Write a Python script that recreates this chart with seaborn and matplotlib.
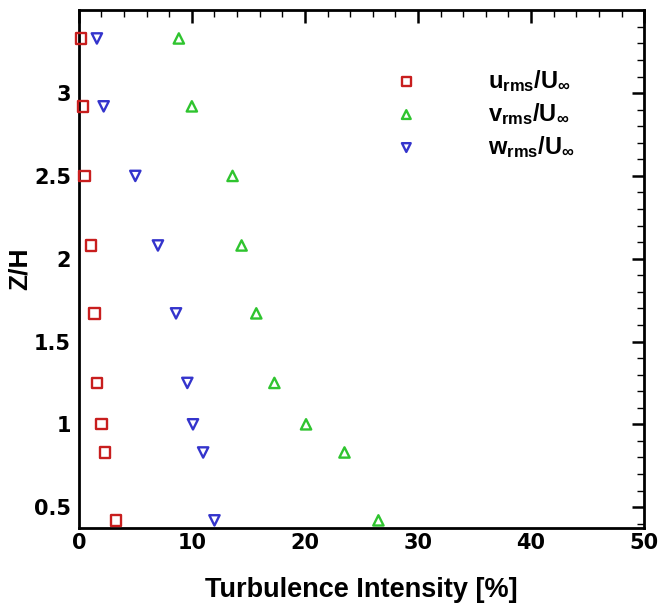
import matplotlib
matplotlib.use("Agg")
import matplotlib.pyplot as plt
import seaborn as sns
import pandas as pd
from matplotlib.ticker import MultipleLocator, FixedLocator, FuncFormatter

z_over_h = [3.33, 2.92, 2.5, 2.08, 1.67, 1.25, 1.0, 0.83, 0.42]
u_rms = [0.2, 0.35, 0.5, 1.05, 1.4, 1.6, 2.0, 2.3, 3.3]
v_rms = [8.85, 10.0, 13.6, 14.4, 15.7, 17.3, 20.1, 23.5, 26.5]
w_rms = [1.6, 2.2, 5.0, 7.0, 8.6, 9.6, 10.1, 11.0, 12.0]
labels = [r"u$_{\mathbf{rms}}$/U$_{\infty}$", r"v$_{\mathbf{rms}}$/U$_{\infty}$", r"w$_{\mathbf{rms}}$/U$_{\infty}$"]
y_ticks = [0.5, 1.0, 1.5, 2.0, 2.5, 3.0]
x_ticks = [0, 10, 20, 30, 40, 50]

rows = []
for lab, vals in zip(labels, [u_rms, v_rms, w_rms]):
    for x, z in zip(vals, z_over_h):
        rows.append({"ti": x, "z": z, "comp": lab})
df = pd.DataFrame(rows)

sns.set_theme(style="white")
plt.rcParams['font.family'] = ['Liberation Sans', 'DejaVu Sans']
plt.rcParams['mathtext.fontset'] = 'custom'
plt.rcParams['mathtext.rm'] = 'Liberation Sans:bold'
plt.rcParams['mathtext.bf'] = 'Liberation Sans:bold'
plt.rcParams['mathtext.it'] = 'Liberation Sans:bold'
plt.rcParams['text.color'] = 'black'
plt.rcParams['axes.labelcolor'] = 'black'

fig = plt.figure(figsize=(6.62, 6.06), dpi=100)
ax = fig.add_axes([0.119, 0.129, 0.854, 0.854])

palette = {labels[0]: "#c81e1e", labels[1]: "#2fc42f", labels[2]: "#3434cc"}
markers = {labels[0]: "s", labels[1]: "^", labels[2]: "v"}

for lab in labels:
    sub = df[df.comp == lab]
    sns.scatterplot(data=sub, x="ti", y="z", ax=ax, marker=markers[lab],
                    facecolor="none", edgecolor=palette[lab], linewidth=1.7,
                    s=55, label=lab, clip_on=False, zorder=3)

ax.set_xlim(0, 50)
ax.set_ylim(0.375, 3.5)
ax.xaxis.set_major_locator(FixedLocator(x_ticks))
ax.xaxis.set_minor_locator(MultipleLocator(2))
ax.yaxis.set_major_locator(FixedLocator(y_ticks))
ax.yaxis.set_minor_locator(MultipleLocator(0.1))
ax.yaxis.set_major_formatter(FuncFormatter(lambda v, p: f"{v:g}"))
ax.xaxis.set_major_formatter(FuncFormatter(lambda v, p: f"{v:g}"))
ax.tick_params(which="both", direction="in", top=True, right=True, colors="black")
ax.tick_params(which="major", length=9, width=1.8)
ax.tick_params(which="minor", length=5, width=1.0)
ax.tick_params(axis="y", which="major", pad=5.5)
ax.tick_params(axis="x", which="major", pad=4)
for t in ax.get_xticklabels() + ax.get_yticklabels():
    t.set_fontfamily("DejaVu Sans")
    t.set_fontweight("bold")
    t.set_fontsize(15)
for s in ax.spines.values():
    s.set_linewidth(2)
    s.set_color("black")

ax.set_xlabel("Turbulence Intensity [%]", fontsize=19.5, fontweight="bold", labelpad=17, color="black")
ax.set_ylabel("Z/H", fontsize=19, fontweight="bold", labelpad=2, color="black")

leg = ax.legend(loc="upper left", bbox_to_anchor=(0.5, 0.93), frameon=False,
                handletextpad=2.45, labelspacing=0.3, prop={"size": 17, "weight": "bold"},
                markerscale=0.85)
for t in leg.get_texts():
    t.set_color("black")

fig.savefig("out.png", dpi=100)
